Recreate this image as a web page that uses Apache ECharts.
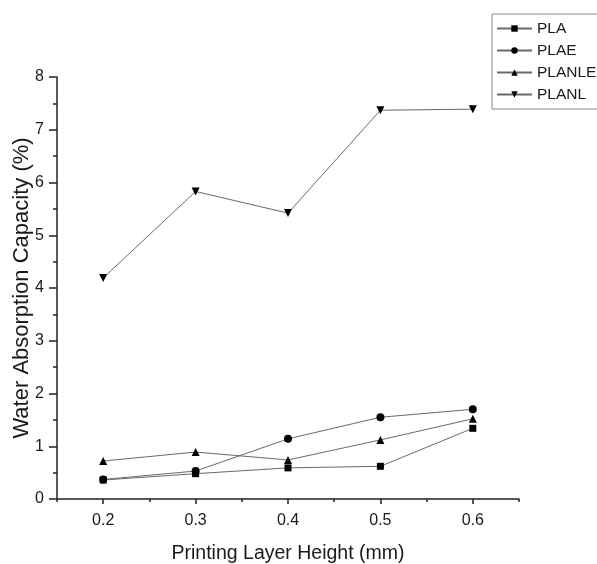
<!DOCTYPE html>
<html><head><meta charset="utf-8">
<script src="https://cdn.jsdelivr.net/npm/echarts@6/dist/echarts.min.js"></script>
<style>html,body{margin:0;padding:0;background:#fff}#c{width:597px;height:564px}</style>
</head><body><div id="c"></div>
<script>
const layerHeights = [0.2, 0.3, 0.4, 0.5, 0.6];
const PLA    = [0.36, 0.48, 0.59, 0.62, 1.34];
const PLAE   = [0.37, 0.53, 1.14, 1.55, 1.70];
const PLANLE = [0.72, 0.89, 0.74, 1.12, 1.52];
const PLANL  = [4.19, 5.83, 5.42, 7.37, 7.39];
const xMajorTicks = [0.2, 0.3, 0.4, 0.5, 0.6];
const xMinorTicks = [0.15, 0.25, 0.35, 0.45, 0.55, 0.65];

const seriesDefs = [
  {name: 'PLA', data: PLA, symbol: 'rect', size: 7, rot: 0},
  {name: 'PLAE', data: PLAE, symbol: 'circle', size: 8, rot: 0},
  {name: 'PLANLE', data: PLANLE, symbol: 'triangle', size: 8, rot: 0},
  {name: 'PLANL', data: PLANL, symbol: 'triangle', size: 8, rot: 180}
];
const txt = '#1a1a1a';
const font = 'Liberation Sans, Arial, sans-serif';
const chart = echarts.init(document.getElementById('c'), null, {renderer: 'canvas'});
chart.setOption({
  animation: false,
  backgroundColor: '#fff',
  textStyle: {fontFamily: font},
  legend: {
    left: 492, top: 14,
    orient: 'vertical',
    padding: [5, 12, 5, 4],
    itemGap: 3, itemWidth: 35, itemHeight: 8,
    borderColor: '#8a8a8a', borderWidth: 1,
    textStyle: {fontSize: 15.5, color: txt, fontFamily: font, lineHeight: 19},
    data: seriesDefs.map(s => s.name)
  },
  grid: {left: 57, right: 78, top: 77, bottom: 65, containLabel: false, outerBoundsMode: 'none'},
  xAxis: [{
    type: 'value', min: 0.15, max: 0.65,
    name: 'Printing Layer Height (mm)', nameLocation: 'middle', nameGap: 45, nameMoveOverlap: false,
    nameTextStyle: {fontSize: 19.5, color: txt, fontFamily: font},
    axisLine: {lineStyle: {color: '#222', width: 1.5}},
    axisTick: {show: true, length: 5, customValues: xMajorTicks, lineStyle: {color: '#222', width: 1.5}},
    axisLabel: {customValues: xMajorTicks, fontSize: 16, color: txt, margin: 14, fontFamily: font, formatter: v => v.toFixed(1)},
    splitLine: {show: false}
  }, {
    type: 'value', min: 0.15, max: 0.65, position: 'bottom',
    axisLine: {show: false},
    axisTick: {show: true, length: 3, customValues: xMinorTicks, lineStyle: {color: '#222', width: 1.5}},
    axisLabel: {show: false},
    splitLine: {show: false}
  }],
  yAxis: {
    type: 'value', min: 0, max: 8, interval: 1,
    name: 'Water Absorption Capacity (%)', nameLocation: 'middle', nameGap: 24, nameMoveOverlap: false,
    nameTextStyle: {fontSize: 22, color: txt, fontFamily: font},
    axisLine: {show: true, lineStyle: {color: '#222', width: 1.5}},
    axisTick: {show: true, length: 8, lineStyle: {color: '#222', width: 1.5}},
    minorTick: {show: true, splitNumber: 2, length: 4, lineStyle: {color: '#222', width: 1.5}},
    axisLabel: {fontSize: 16, color: txt, margin: 13, fontFamily: font},
    splitLine: {show: false}
  },
  series: seriesDefs.map(s => ({
    name: s.name, type: 'line', xAxisIndex: 0,
    data: layerHeights.map((x, i) => [x, s.data[i]]),
    symbol: s.symbol, symbolSize: s.size, symbolRotate: s.rot,
    showAllSymbol: true,
    lineStyle: {color: '#6a6a6a', width: 1},
    itemStyle: {color: '#000', borderWidth: 0},
    emphasis: {disabled: true}
  }))
});
</script></body></html>
